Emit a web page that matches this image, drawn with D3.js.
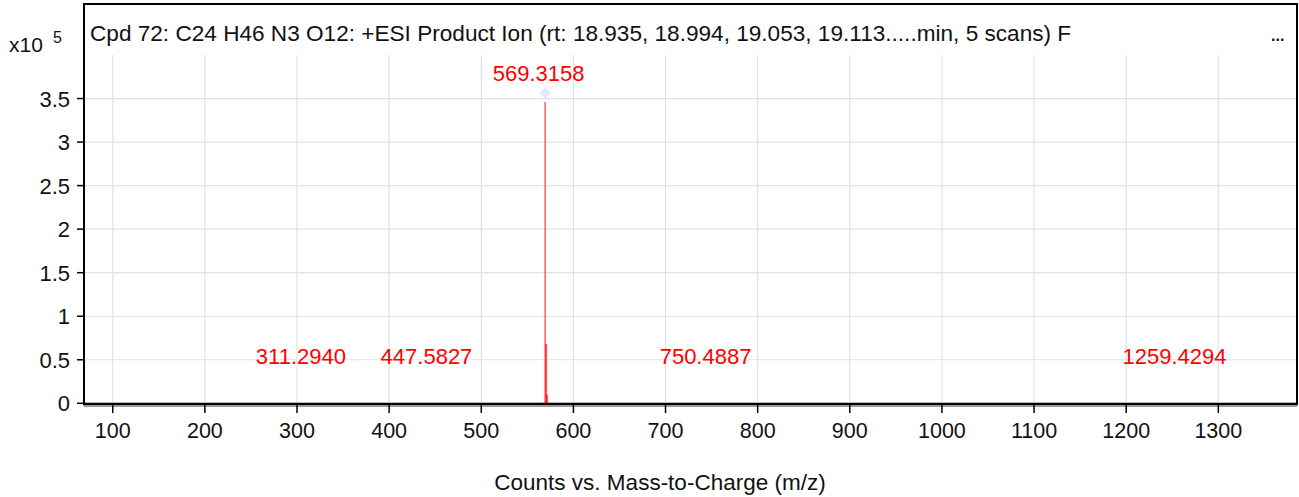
<!DOCTYPE html>
<html><head><meta charset="utf-8">
<script src="https://cdn.jsdelivr.net/npm/d3@7"></script>
<style>
html,body{margin:0;padding:0;background:#fff;}
svg{display:block;font-family:"Liberation Sans",Arial,Helvetica,sans-serif;}
</style></head>
<body><svg id="c" width="1299" height="497"></svg>
<script>
// ---- data ----
const titleText = "Cpd 72: C24 H46 N3 O12: +ESI Product Ion (rt: 18.935, 18.994, 19.053, 19.113.....min, 5 scans) F";
const xTicks = [100,200,300,400,500,600,700,800,900,1000,1100,1200,1300];
const yTicks = [0,0.5,1,1.5,2,2.5,3,3.5];
const yTickLabels = ["0","0.5","1","1.5","2","2.5","3","3.5"];
const peakMz = [311.2940, 447.5827, 569.3158, 570.3190, 571.3220, 750.4887, 1259.4294];
const peakIntensity = [0.003, 0.003, 3.46, 0.68, 0.10, 0.003, 0.003]; // x10^5 counts
const labelMz = [311.2940, 447.5827, 569.3158, 750.4887, 1259.4294];
const labelIntensity = [0.003, 0.003, 3.46, 0.003, 0.003];
const labelText = ["311.2940","447.5827","569.3158","750.4887","1259.4294"];
const xTitle = "Counts vs. Mass-to-Charge (m/z)";

(function(){
// ---- layout ----
const L = 84, R = 1297, T = 4, B = 404, plotTop = 55;
const svg = d3.select("#c");
const x = d3.scaleLinear().domain([68.8, 1385.4]).range([L, R]);
const y = d3.scaleLinear().domain([0, 4]).range([403.3, plotTop]);
const FS = 21.5;

// gridlines
const g = svg.append("g");
g.selectAll("line.vg").data(xTicks).join("line")
  .attr("x1", d => x(d)).attr("x2", d => x(d))
  .attr("y1", plotTop).attr("y2", B)
  .attr("stroke", "#e2e2e2").attr("stroke-width", 1.2);
g.selectAll("line.hg").data(yTicks).join("line")
  .attr("x1", L).attr("x2", R)
  .attr("y1", d => y(d)).attr("y2", d => y(d))
  .attr("stroke", "#e2e2e2").attr("stroke-width", 1.2);

// peaks
const peaks = peakMz.map((m, i) => ({m, v: peakIntensity[i], i}));
svg.append("g").selectAll("line").data(peaks).join("line")
  .attr("x1", d => x(d.m)).attr("x2", d => x(d.m))
  .attr("y1", y(0)).attr("y2", d => y(d.v))
  .attr("stroke", d => d.v > 1 ? "#ff3030" : "#ff2020")
  .attr("stroke-opacity", d => d.v > 1 ? 0.9 : 0.75)
  .attr("stroke-width", d => d.v > 1 ? 1.3 : 2.2);

// diamond marker at base peak
const basePeak = peaks.reduce((a, b) => a.v > b.v ? a : b);
svg.append("path")
  .attr("d", d3.symbol(d3.symbolDiamond2, 90)())
  .attr("transform", `translate(${x(basePeak.m)},${y(basePeak.v) - 9})`)
  .attr("fill", "#e6e8fb").attr("opacity", 0.95);

// peak labels
const labelFloor = 0.21;
svg.append("g").selectAll("text").data(labelMz.map((m, i) => ({m, v: labelIntensity[i], t: labelText[i]})))
  .join("text")
  .attr("x", d => x(d.m) - 6.5)
  .attr("y", d => y(Math.max(d.v, labelFloor)) - 21)
  .attr("text-anchor", "middle")
  .attr("font-size", 22).attr("fill", "#ff0000")
  .text(d => d.t);

// frame
svg.append("path")
  .attr("d", `M${L},${B} L${L},${T} L${R},${T} L${R},${B}`)
  .attr("fill", "none").attr("stroke", "#000").attr("stroke-width", 2);
// bottom axis line with shadow
svg.append("line").attr("x1", L).attr("x2", R).attr("y1", B + 2.2).attr("y2", B + 2.2)
  .attr("stroke", "#9a9a9a").attr("stroke-width", 1.5);
svg.append("line").attr("x1", L - 1).attr("x2", R + 1).attr("y1", B).attr("y2", B)
  .attr("stroke", "#000").attr("stroke-width", 2.5);

// x axis ticks + labels
const xa = svg.append("g");
xa.selectAll("line").data(xTicks).join("line")
  .attr("x1", d => x(d)).attr("x2", d => x(d))
  .attr("y1", B).attr("y2", B + 9)
  .attr("stroke", "#000").attr("stroke-width", 1.5);
xa.selectAll("text").data(xTicks).join("text")
  .attr("x", d => x(d)).attr("y", 438)
  .attr("text-anchor", "middle").attr("font-size", FS).attr("fill", "#111")
  .text(d => d);

// y axis ticks + labels
const ya = svg.append("g");
ya.selectAll("line").data(yTicks).join("line")
  .attr("x1", L - 7).attr("x2", L)
  .attr("y1", d => y(d)).attr("y2", d => y(d))
  .attr("stroke", "#000").attr("stroke-width", 1.5);
ya.selectAll("text").data(yTicks).join("text")
  .attr("x", 70).attr("y", d => y(d) + 8)
  .attr("text-anchor", "end").attr("font-size", 22).attr("fill", "#111")
  .text((d, i) => yTickLabels[i]);

// exponent label
svg.append("text").attr("x", 9).attr("y", 52).attr("font-size", 21).attr("fill", "#111").text("x10");
svg.append("text").attr("x", 53).attr("y", 43).attr("font-size", 16).attr("fill", "#111").text("5");

// title
svg.append("text").attr("x", 90).attr("y", 41).attr("font-size", 22.6).attr("fill", "#111").text(titleText);
svg.append("text").attr("x", 1271).attr("y", 41).attr("font-size", 16).attr("font-weight", "bold").attr("fill", "#111").text("...");

// axis title
svg.append("text").attr("x", 660).attr("y", 490).attr("text-anchor", "middle")
  .attr("font-size", 22.5).attr("fill", "#111").text(xTitle);
})();
</script></body></html>
